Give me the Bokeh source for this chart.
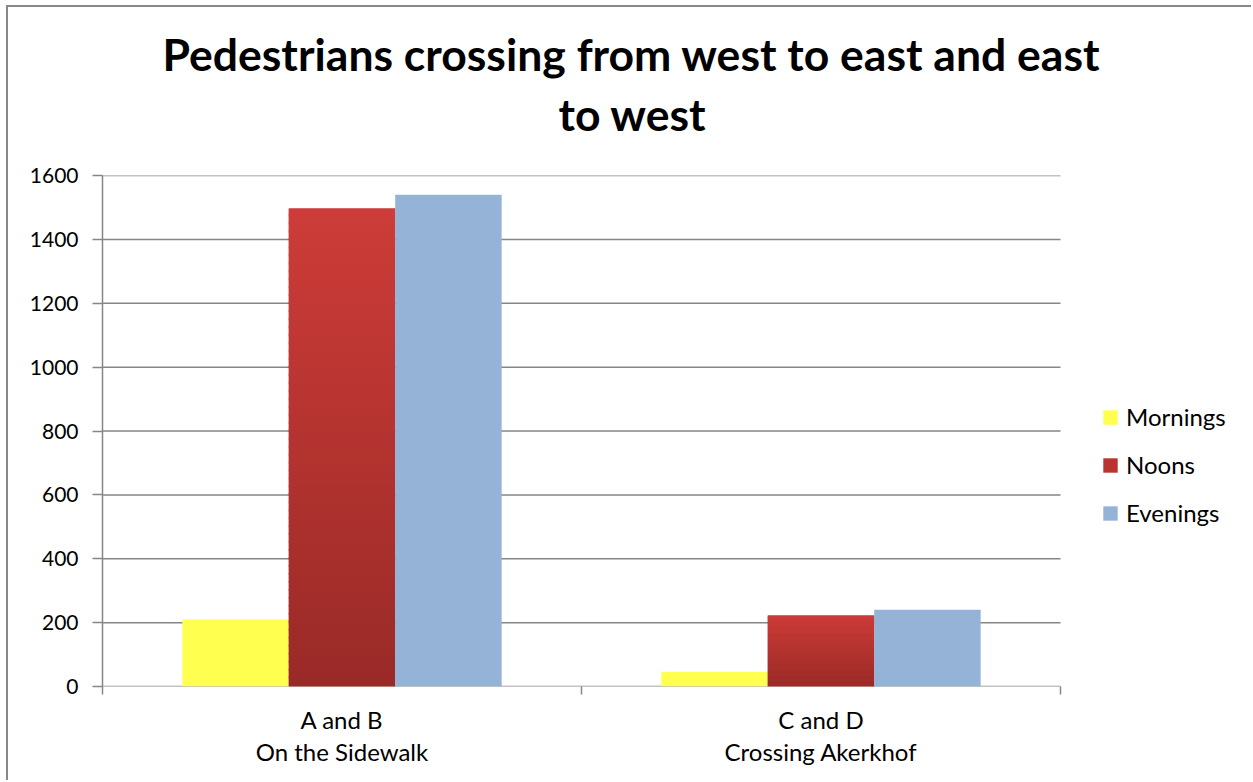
from bokeh.plotting import figure
from bokeh.models import Range1d, FixedTicker, Legend, LegendItem, Title
from bokeh.embed import file_html
from bokeh.resources import INLINE

# ---- data ----
categories = ["A and B\nOn the Sidewalk", "C and D\nCrossing Akerkhof"]
series = ["Mornings", "Noons", "Evenings"]
mornings = [210, 46]
noons = [1497, 222]
evenings = [1540, 240]
y_ticks = [0, 200, 400, 600, 800, 1000, 1200, 1400, 1600]
title_lines = ["Pedestrians crossing from west to east and east", "to west"]

# ---- style ----
FONT = "Lato"
GREY = "#868686"
C_MORN = "#FFFF50"
C_NOON_TOP = (205, 60, 56)
C_NOON_BOT = (153, 42, 39)
C_NOON_MID = "#B73430"
C_EVE = "#95B3D7"

# ---- layout (pixels) ----
W, H = 1245, 775
PLOT_LEFT, CAT_RIGHT, PAGE_RIGHT = 102, 1060, 1253

n_cat = len(categories)
bar_w = 1 / 4.5
centers = [i + 0.5 for i in range(n_cat)]
x_end = n_cat * (PAGE_RIGHT - PLOT_LEFT) / (CAT_RIGHT - PLOT_LEFT)

p = figure(
    width=W, height=H,
    x_range=Range1d(0, x_end), y_range=Range1d(0, 1600),
    output_backend="svg", toolbar_location=None,
    min_border_left=94, min_border_right=0,
    min_border_top=168, min_border_bottom=96,
    styles={"border-left": "2px solid #888888", "border-top": "2px solid #888888",
            "margin-left": "6px", "margin-top": "5px"},
)
p.outline_line_color = None
p.background_fill_color = "white"
p.border_fill_color = "white"

# title: two lines, each centred on the chart
t2 = Title(text=title_lines[1], align="left", offset=456, standoff=72,
           text_font=FONT, text_font_size="44.5px", text_font_style="bold",
           text_color="black")
t1 = Title(text=title_lines[0], align="left", offset=60, standoff=-62,
           text_font=FONT, text_font_size="44.5px", text_font_style="bold",
           text_color="black")
p.add_layout(t2, "above")
p.add_layout(t1, "above")

# gridlines spanning the category area only
p.segment(x0=[0] * len(y_ticks), x1=[n_cat] * len(y_ticks), y0=y_ticks, y1=y_ticks,
          line_color=GREY, line_width=1.5)

# bars
r_m = p.vbar(x=[c - bar_w for c in centers], top=mornings, width=bar_w,
             fill_color=C_MORN, line_color=None)
r_n = p.vbar(x=centers, top=noons, width=bar_w, fill_color=C_NOON_MID, line_color=None)

# vertical gradient on noon bars
N = 60
gx, gb, gt, gc = [], [], [], []
for c, v in zip(centers, noons):
    for i in range(N):
        f = (i + 0.5) / N
        r = round(C_NOON_BOT[0] + (C_NOON_TOP[0] - C_NOON_BOT[0]) * f)
        g = round(C_NOON_BOT[1] + (C_NOON_TOP[1] - C_NOON_BOT[1]) * f)
        b = round(C_NOON_BOT[2] + (C_NOON_TOP[2] - C_NOON_BOT[2]) * f)
        gx.append(c)
        gb.append(v * i / N)
        gt.append(v * (i + 1) / N + (0 if i == N - 1 else v * 0.004))
        gc.append("#%02x%02x%02x" % (r, g, b))
p.vbar(x=gx, bottom=gb, top=gt, width=bar_w, fill_color=gc, line_color=None)

r_e = p.vbar(x=[c + bar_w for c in centers], top=evenings, width=bar_w,
             fill_color=C_EVE, line_color=None)

# axes
xa = p.xaxis[0]
xa.ticker = FixedTicker(ticks=centers, minor_ticks=list(range(n_cat + 1)))
xa.major_label_overrides = {c: lab for c, lab in zip(centers, categories)}
xa.major_tick_out = 0
xa.major_tick_in = 0
xa.minor_tick_out = 8
xa.minor_tick_in = 0
xa.minor_tick_line_color = GREY
xa.minor_tick_line_width = 1.5
xa.axis_line_color = None
xa.major_label_text_font = FONT
xa.major_label_text_font_size = "24px"
xa.major_label_text_color = "black"
xa.major_label_standoff = 10
xa.major_label_text_line_height = 1.12

ya = p.yaxis[0]
ya.ticker = FixedTicker(ticks=y_ticks)
ya.major_tick_out = 10
ya.major_tick_in = 0
ya.minor_tick_out = 0
ya.minor_tick_in = 0
ya.major_tick_line_color = GREY
ya.major_tick_line_width = 1.5
ya.axis_line_color = GREY
ya.axis_line_width = 1.5
ya.major_label_text_font = FONT
ya.major_label_text_font_size = "21px"
ya.major_label_text_color = "black"
ya.major_label_standoff = 14

p.xgrid.grid_line_color = None
p.ygrid.grid_line_color = None

legend = Legend(
    items=[LegendItem(label=series[0], renderers=[r_m]),
           LegendItem(label=series[1], renderers=[r_n]),
           LegendItem(label=series[2], renderers=[r_e])],
    location=(999, 159),
    glyph_width=18, glyph_height=18, label_height=20, spacing=19,
    label_text_font=FONT, label_text_font_size="24px", label_text_color="black",
    label_standoff=7, padding=0, margin=0,
    border_line_color=None, background_fill_alpha=0,
)
p.add_layout(legend, "center")

open("out.html", "w").write(file_html(p, INLINE))
